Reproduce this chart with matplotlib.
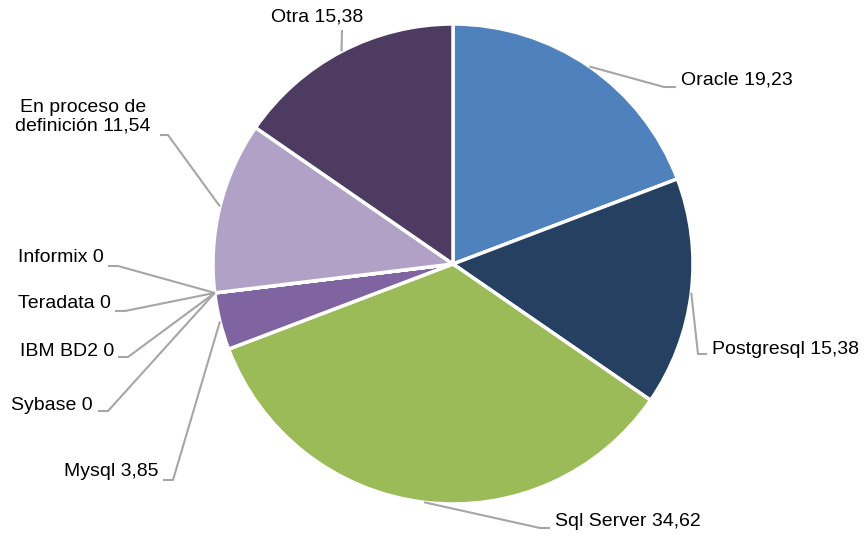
import numpy as np
import matplotlib.pyplot as plt

# Data
labels = ["Oracle", "Postgresql", "Sql Server", "Mysql", "Sybase", "IBM BD2",
          "Teradata", "Informix", "En proceso de\ndefinición", "Otra"]
values = [19.23, 15.38, 34.62, 3.85, 0, 0, 0, 0, 11.54, 15.38]
colors = ["#4F81BD", "#254061", "#9BBB59", "#8064A2", "#4BACC6", "#F79646",
          "#2C4D75", "#772C2A", "#B2A1C7", "#4D3B62"]

W, H = 866, 538
cx, cy, R = 453, H - 264, 240

# label layout (pixel coords, y from top): elbow point, line end, text anchor, alignment
layout = {
    "Oracle":     ((664, 87), (676, 87), (681, 80), "left"),
    "Postgresql": ((698, 354), (707, 354), (712, 350), "left"),
    "Sql Server": ((540, 528), (550, 528), (555, 522), "left"),
    "Mysql":      ((173, 480), (163, 480), (158, 471), "right"),
    "Sybase":     ((108, 411), (98, 411), (93, 405), "right"),
    "IBM BD2":    ((128, 357), (118, 357), (114, 351), "right"),
    "Teradata":   ((125, 311), (115, 311), (111, 304), "right"),
    "Informix":   ((118, 266), (108, 266), (104, 258), "right"),
    "En proceso de\ndefinición": ((168, 135), (160, 135), (83, 117), "center"),
    "Otra":       ((342, 30), (342, 30), (317, 17), "center"),
}

plt.rcParams['font.family'] = ['Liberation Sans', 'DejaVu Sans']

fig = plt.figure(figsize=(W / 100, H / 100), dpi=100)
ax = fig.add_axes([0, 0, 1, 1])

ax.pie(values, colors=colors, startangle=90, counterclock=False,
       center=(cx, cy), radius=R,
       wedgeprops=dict(edgecolor='white', linewidth=2.5))
ax.set_xlim(0, W)
ax.set_ylim(0, H)
ax.set_aspect('equal')
ax.axis('off')

total = sum(values)
cum = np.cumsum([0] + values)
for i, (lab, val) in enumerate(zip(labels, values)):
    mid = 90 - (cum[i] + val / 2) / total * 360
    px = cx + R * np.cos(np.radians(mid))
    py = cy + R * np.sin(np.radians(mid))
    elbow, end, tpos, ha = layout[lab]
    xs = [px, elbow[0], end[0]]
    ys = [py, H - elbow[1], H - end[1]]
    ax.plot(xs, ys, color='#A6A6A6', lw=1.5, solid_capstyle='butt')
    txt = f"{lab} {val:g}".replace('.', ',')
    ax.text(tpos[0], H - tpos[1], txt, ha=ha, va='center', fontsize=14,
            color='black', multialignment='center', linespacing=1.1)

fig.savefig("out.png", dpi=100)
